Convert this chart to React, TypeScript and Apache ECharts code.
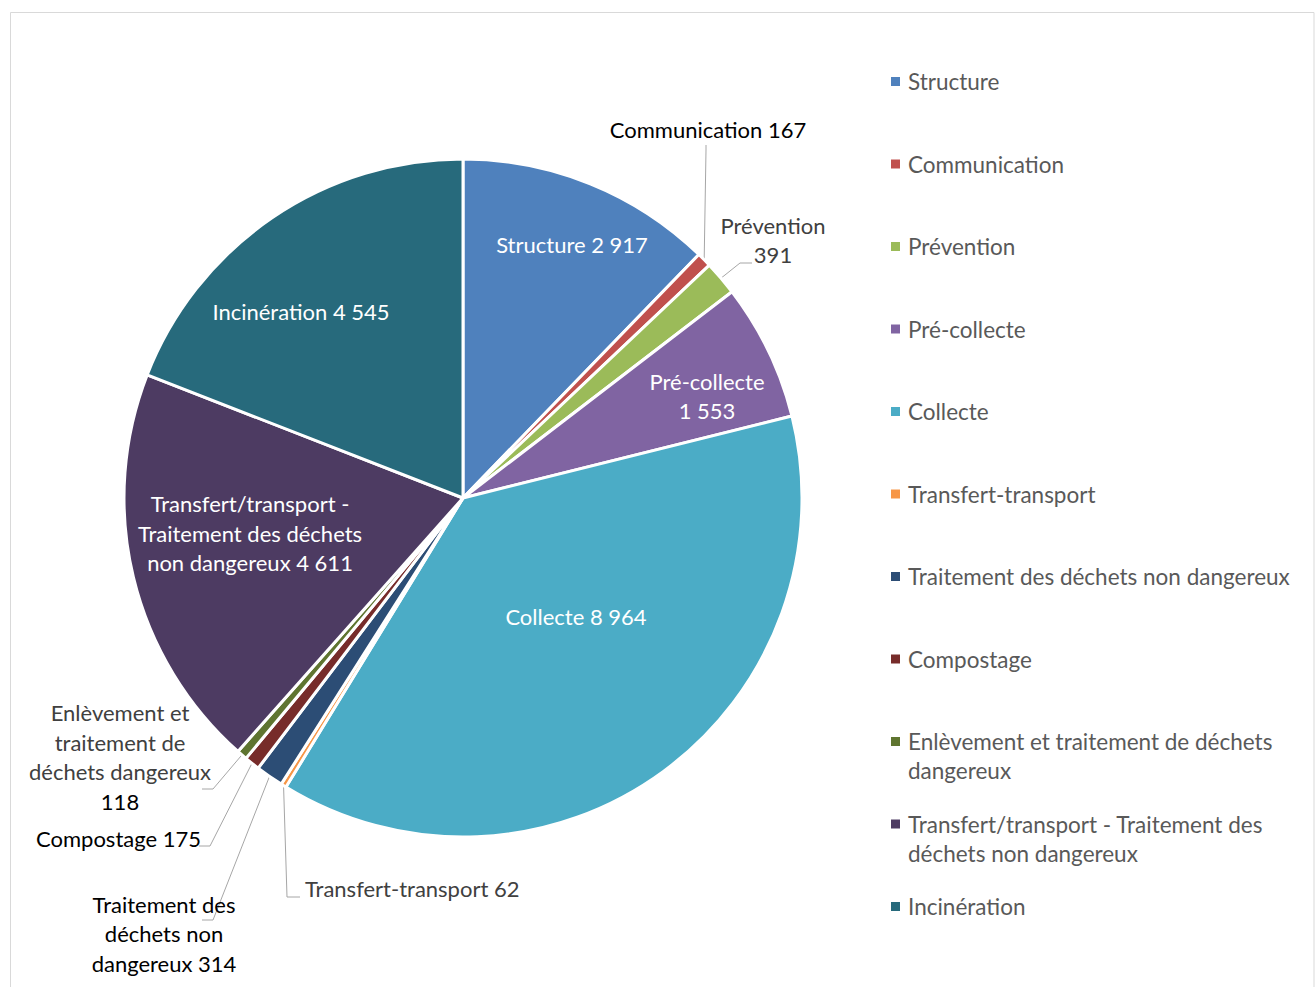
import React, { useEffect, useRef } from 'react';
import * as echarts from 'echarts';

const categories = [
  'Structure',
  'Communication',
  'Prévention',
  'Pré-collecte',
  'Collecte',
  'Transfert-transport',
  'Traitement des déchets non dangereux',
  'Compostage',
  'Enlèvement et traitement de déchets dangereux',
  'Transfert/transport - Traitement des déchets non dangereux',
  'Incinération',
];
const values = [2917, 167, 391, 1553, 8964, 62, 314, 175, 118, 4611, 4545];
const colors = ['#4F81BD', '#C0504D', '#9BBB59', '#8064A2', '#4BACC6', '#F79646', '#2C4D75', '#772C2A', '#5F7530', '#4D3B62', '#276A7C'];

// label text (name part, with line breaks as in the original)
const labelNames = [
  'Structure ',
  'Communication ',
  'Prévention\n',
  'Pré-collecte\n',
  'Collecte ',
  'Transfert-transport ',
  'Traitement des\ndéchets non\ndangereux ',
  'Compostage ',
  'Enlèvement et\ntraitement de\ndéchets dangereux\n',
  'Transfert/transport -\nTraitement des déchets\nnon dangereux ',
  'Incinération ',
];
const legendNames = [
  'Structure',
  'Communication',
  'Prévention',
  'Pré-collecte',
  'Collecte',
  'Transfert-transport',
  'Traitement des déchets non dangereux',
  'Compostage',
  'Enlèvement et traitement de déchets\ndangereux',
  'Transfert/transport - Traitement des\ndéchets non dangereux',
  'Incinération',
];
const insideLabel = [true, false, false, true, true, false, false, false, false, true, true];
const labelColors = ['#FFFFFF', '#000000', '#404040', '#FFFFFF', '#FFFFFF', '#404040', '#000000', '#000000', '#404040', '#FFFFFF', '#FFFFFF'];

// label anchor positions (layout)
const labelPos: [number, number, string][] = [
  [572, 244, 'center'],
  [708, 129, 'center'],
  [773, 240, 'center'],
  [707, 396, 'center'],
  [576, 616, 'center'],
  [305, 888, 'left'],
  [164, 933.5, 'center'],
  [201, 838, 'right'],
  [120, 757, 'center'],
  [250, 533, 'center'],
  [301, 311, 'center'],
];
const leaderPts: (number[][] | null)[] = [
  null,
  [[706, 150], [706, 145]],
  [[740, 263], [752, 263]],
  null,
  null,
  [[287, 897], [300, 897]],
  [[213, 920], [202, 920]],
  [[210, 846], [199, 846]],
  [[213, 789], [202, 789]],
  null,
  null,
];

const FONT = 'Lato';
const fmt = (v: number) => String(v).replace(/\B(?=(\d{3})+(?!\d))/g, ' ');

export default function App() {
  const ref = useRef<HTMLDivElement>(null);
  useEffect(() => {
    if (!ref.current) return;
    const chart = echarts.init(ref.current, undefined, { renderer: 'svg' });
    const data = categories.map((name, i) => ({
      name,
      value: values[i],
      itemStyle: { color: colors[i] },
      label: {
        position: insideLabel[i] ? 'inside' : 'outside',
        color: labelColors[i],
        formatter: () =>
          i === 8 ? labelNames[i] + '{k|' + fmt(values[i]) + '}' : labelNames[i] + fmt(values[i]),
      },
      labelLine: { show: !insideLabel[i] },
    }));
    chart.setOption({
      animation: false,
      graphic: [
        {
          type: 'rect',
          silent: true,
          shape: { x: 10.5, y: 12.5, width: 1303.5, height: 1000 },
          style: { fill: 'none', stroke: '#D9D9D9', lineWidth: 1 },
        },
      ],
      legend: {
        orient: 'vertical',
        left: 889,
        top: 38,
        padding: 0,
        itemWidth: 11,
        itemHeight: 11,
        itemGap: -4.5,
        icon: 'rect',
        data: categories,
        formatter: (name: string) => {
          const t = legendNames[categories.indexOf(name)];
          return t.indexOf('\n') >= 0 ? ' \n' + t : ' \n' + t + '\n ';
        },
        textStyle: {
          color: '#595959',
          fontFamily: FONT,
          fontSize: 22.5,
          lineHeight: 29,
          padding: [0, 0, 0, 2],
        },
      },
      series: [
        {
          type: 'pie',
          center: [463, 498],
          radius: 339,
          startAngle: 90,
          clockwise: true,
          avoidLabelOverlap: false,
          itemStyle: { borderColor: '#FFFFFF', borderWidth: 3 },
          label: {
            fontFamily: FONT,
            fontSize: 22,
            lineHeight: 29.5,
            align: 'center',
            rich: { k: { color: '#000000', fontFamily: FONT, fontSize: 22, lineHeight: 29.5 } },
          },
          labelLine: { show: true, smooth: false, lineStyle: { color: '#A6A6A6', width: 1 } },
          labelLayout: (p: any) => {
            const i = p.dataIndex;
            const [x, y, align] = labelPos[i];
            const res: any = { x, y, align, verticalAlign: 'middle' };
            const pts = leaderPts[i];
            if (pts && p.labelLinePoints && p.labelLinePoints[0]) {
              res.labelLinePoints = [p.labelLinePoints[0], ...pts];
            }
            return res;
          },
          emphasis: { disabled: true },
          data,
        },
      ],
    });
    return () => chart.dispose();
  }, []);
  return (
    <div
      ref={ref}
      style={{ position: 'absolute', left: 0, top: 0, width: 1316, height: 987, background: '#FFFFFF' }}
    />
  );
}
